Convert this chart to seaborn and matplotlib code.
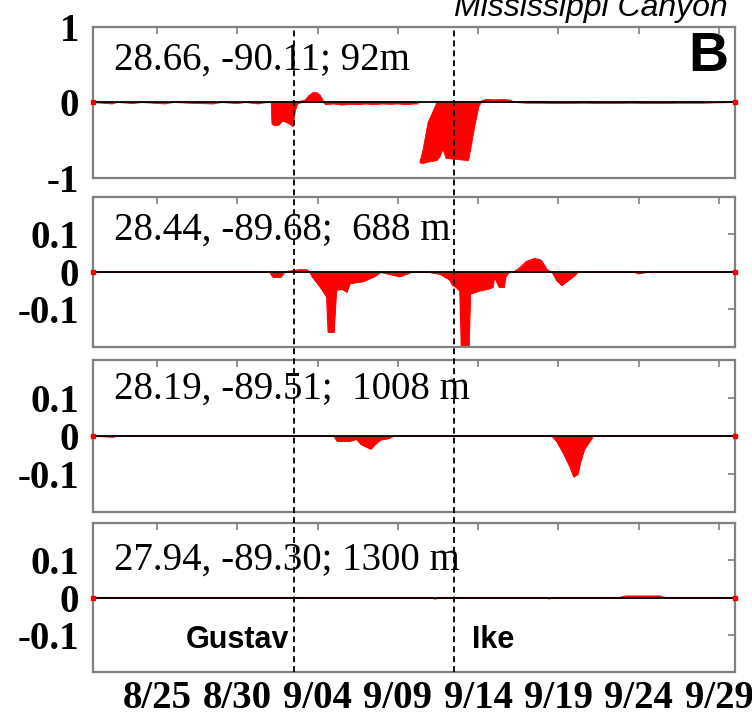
import numpy as np
import pandas as pd
import matplotlib
matplotlib.use("Agg")
import matplotlib.pyplot as plt
import seaborn as sns
from matplotlib.lines import Line2D
from matplotlib import transforms

# time axis: days since 2008-08-21
tick_days = [4, 9, 14, 19, 24, 29, 34, 39]
tick_labels = ["8/25", "8/30", "9/04", "9/09", "9/14", "9/19", "9/24", "9/29"]
gustav_day = 12.5
ike_day = 22.5

# panel 1 (92 m): upper and lower edge of the red sticks (nan = gap)
t1 = [0.0, 0.6, 1.2, 1.5, 2.5, 3.0, 4.5, 5.0, 6.0, 7.5, 8.0, 9.0, 9.5, 10.3, 10.8,
      11.1, 11.15, 11.35, 11.6, 11.8, 12.0, 12.2, 12.46, 12.6, 12.75, 13.0, 13.2,
      13.45, 13.7, 13.95, 14.15, 14.35, 14.5, 15.0, 15.5, 16.0, 16.5, 17.0, 17.5,
      18.0, 18.5, 19.0, 19.5, 20.0, 20.25, 20.3, 20.37, 20.56, 20.87, 21.43, 21.62, 21.8,
      22.0, 22.4, 22.9, 23.4, 23.55, 23.8, 24.05, 24.2, 24.5, 25.0, 25.5, 26.0,
      26.3, 27.0, 28.0, 29.0, 30.5, 32.0, 33.5, 35.0, 36.5, 38.0, 40.0]
hi1 = [0, 0, 0, 0, 0, 0, 0, 0, 0, 0, 0, 0, 0, 0, 0,
       0, 0, 0, 0, 0, 0, 0, 0, 0, 0.01, 0.02, 0.03,
       0.09, 0.13, 0.13, 0.10, 0.02, 0, 0, 0, 0, 0, 0, 0,
       0, 0, 0, 0, 0, 0, np.nan, -0.79, -0.63, -0.27, 0, 0, 0,
       0, 0, 0, 0, 0, 0, 0, 0.02, 0.04, 0.035, 0.04, 0.03,
       0, 0.01, 0.01, 0, 0.005, 0, 0.005, 0, 0, 0, 0]
lo1 = [0, -0.01, -0.02, 0, -0.015, 0, -0.02, 0, -0.01, -0.02, 0, -0.015, 0, -0.02, 0,
       0, -0.29, -0.31, -0.30, -0.25, -0.26, -0.28, -0.32, -0.12, -0.02, 0, 0,
       0, 0, 0, 0, 0, -0.03, -0.02, -0.035, -0.025, -0.03, -0.02, -0.03,
       -0.02, -0.025, -0.02, -0.03, -0.02, -0.02, np.nan, -0.80, -0.81, -0.79, -0.77, -0.72, -0.62,
       -0.74, -0.75, -0.76, -0.77, -0.60, -0.30, -0.05, 0, 0, 0, 0, 0,
       0, -0.01, -0.01, -0.015, -0.01, -0.015, -0.01, -0.015, -0.01, -0.01, 0]

# panel 2 (688 m)
t2 = [0.0, 11.0, 11.2, 11.7, 11.9, 12.8, 13.3, 13.5, 13.65, 14.15, 14.55, 14.65,
      15.0, 15.15, 15.5, 15.8, 16.0, 16.8, 17.6, 17.9, 18.4, 19.1, 19.8, 20.9,
      21.6, 22.2, 22.4, 22.6, 22.85, 22.95, 23.4, 23.5, 24.05, 24.6, 24.9, 25.0,
      25.3, 25.6, 25.7, 25.9, 26.2, 26.5, 27.0, 27.5, 27.9, 28.3, 28.6, 28.9,
      29.2, 29.5, 29.9, 30.2, 33.7, 34.0, 34.5, 40.0]
v2 = [0, 0, -0.013, -0.013, 0, 0.006, 0.006, 0, -0.012, -0.04, -0.066, -0.16,
      -0.16, -0.048, -0.045, -0.053, -0.03, -0.025, -0.01, 0, -0.005, -0.012, 0, 0,
      -0.005, -0.02, -0.035, -0.04, -0.05, -0.21, -0.21, -0.058, -0.05, -0.045, -0.04, -0.012,
      -0.04, -0.04, -0.012, 0, 0, 0.008, 0.028, 0.036, 0.032, 0.005, 0, -0.023,
      -0.035, -0.025, -0.012, 0, 0, -0.004, 0, 0]

# panel 3 (1008 m)
t3 = [0.0, 1.2, 1.5, 15.0, 15.2, 16.0, 16.4, 16.7, 17.3, 17.6, 17.9, 18.4, 18.7,
      28.6, 28.9, 29.3, 29.7, 29.95, 30.2, 30.35, 30.6, 31.0, 31.15, 40.0]
v3 = [0, -0.002, 0, 0, -0.013, -0.013, -0.008, -0.022, -0.034, -0.02, -0.01, -0.006, 0,
      0, -0.015, -0.045, -0.08, -0.107, -0.1, -0.07, -0.035, -0.01, 0, 0]

# panel 4 (1300 m)
t4 = [0.0, 21.0, 21.3, 21.6, 28.2, 28.4, 28.6, 32.8, 33.2, 35.3, 35.6, 40.0]
v4 = [0, 0, -0.003, 0, 0, -0.003, 0, 0, 0.004, 0.004, 0, 0]

site_labels = ["28.66, -90.11; 92m", "28.44, -89.68;  688 m",
               "28.19, -89.51;  1008 m", "27.94, -89.30; 1300 m"]

sns.set_style("white")
plt.rcParams["font.family"] = ["Liberation Serif", "DejaVu Serif"]
plt.rcParams["text.color"] = "black"
plt.rcParams["xtick.labelcolor"] = "black"
plt.rcParams["ytick.labelcolor"] = "black"

fig = plt.figure(figsize=(7.52, 7.25), dpi=100)

panels = [
    (np.array(t1), np.array(lo1), np.array(hi1), None, 1.0, [-1, 0, 1], ["-1", "0", "1"]),
    (np.array(t2), np.minimum(v2, 0), np.maximum(v2, 0), v2, 0.2, [-0.1, 0, 0.1], ["-0.1", "0", "0.1"]),
    (np.array(t3), np.minimum(v3, 0), np.maximum(v3, 0), v3, 0.2, [-0.1, 0, 0.1], ["-0.1", "0", "0.1"]),
    (np.array(t4), np.minimum(v4, 0), np.maximum(v4, 0), v4, 0.2, [-0.1, 0, 0.1], ["-0.1", "0", "0.1"]),
]
bottoms = [0.7545, 0.5214, 0.2938, 0.0731]
heights = [0.2083, 0.2069, 0.2097, 0.2055]
text_y = [0.78, 0.78, 0.81, 0.75]
left, width = 0.1237, 0.8537

axes = []
for i, (t, lo, hi, v, lim, yt, ylab) in enumerate(panels):
    ax = fig.add_axes([left, bottoms[i], width, heights[i]])
    ax.fill_between(t, lo, hi, facecolor="red", edgecolor="red", lw=0.6, zorder=2)
    if v is not None:
        sns.lineplot(x=t, y=v, color="red", lw=0.8, ax=ax, zorder=2)
    ax.axhline(0, color="black", lw=1.3, zorder=3)
    ax.plot(t[[0, -1]], lo[[0, -1]], "s", color="red", ms=3.5, clip_on=False, zorder=4)
    ax.set_xlim(0, 40)
    ax.set_ylim(-lim, lim)
    ax.set_xticks(tick_days)
    if i == 3:
        ax.set_xticklabels(tick_labels, fontsize=28, fontweight="bold")
    else:
        ax.set_xticklabels([])
    ax.set_yticks(yt)
    ax.set_yticklabels(ylab, fontsize=28, fontweight="bold")
    ax.tick_params(axis="both", direction="in", length=5, width=1.2, color="#808080",
                   top=True, right=True)
    ax.tick_params(axis="y", pad=10)
    ax.tick_params(axis="x", pad=6)
    for s in ax.spines.values():
        s.set_color("#808080")
        s.set_linewidth(1.6)
    ax.set_xlabel("")
    ax.set_ylabel("")
    ax.text(0.033, text_y[i], site_labels[i], transform=ax.transAxes,
            fontsize=28, ha="left", va="center")
    axes.append(ax)

axes[0].text(0.99, 0.8, "B", transform=axes[0].transAxes, ha="right", va="center",
             fontsize=40, fontweight="bold", family="Liberation Sans")
fig.text(0.968, 0.978, "Mississippi Canyon", ha="right", va="baseline", fontsize=23,
         style="italic", family="Liberation Sans")

axes[3].text(gustav_day - 0.25, -0.115, "Gustav", ha="right", va="center",
             fontsize=22, fontweight="bold", family="Liberation Sans")
axes[3].text(ike_day + 1.1, -0.115, "Ike", ha="left", va="center",
             fontsize=22, fontweight="bold", family="Liberation Sans")

# hurricane markers across all panels
trans = transforms.blended_transform_factory(axes[3].transData, fig.transFigure)
for d in [gustav_day, ike_day]:
    fig.add_artist(Line2D([d, d], [bottoms[3], bottoms[0] + heights[0]], transform=trans,
                          color="black", lw=1.3, dashes=(3.3, 2.2), zorder=10))

fig.savefig("out.png", dpi=100)
